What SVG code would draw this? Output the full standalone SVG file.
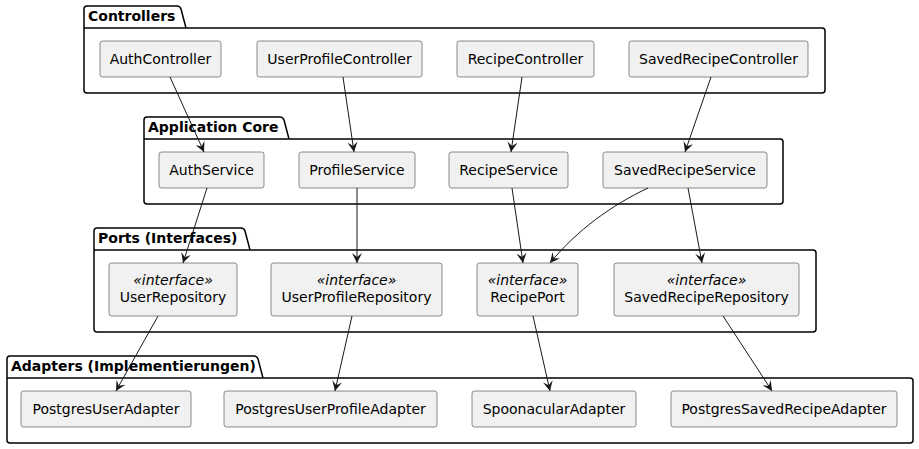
<svg xmlns="http://www.w3.org/2000/svg" width="919" height="449" viewBox="0 0 919 449">
<defs>
<style>
.pkg{fill:none;stroke:#000;stroke-width:1.5}
.box{fill:#F1F1F1;stroke:#181818;stroke-width:0.5}
.t{font-family:"DejaVu Sans",sans-serif;font-size:14px;fill:#000;text-anchor:middle}
.pt{font-family:"DejaVu Sans",sans-serif;font-size:14px;font-weight:bold;fill:#000}
.i{font-style:italic}
.c{fill:none;stroke:#181818;stroke-width:1}
</style>
<marker id="ah" viewBox="0 0 10 10" refX="10" refY="5" markerWidth="10" markerHeight="10" markerUnits="userSpaceOnUse" orient="auto">
<path d="M10,5 L0,0 L4,5 L0,10 Z" fill="#181818"/>
</marker>
</defs>
<rect width="919" height="449" fill="#fff"/>
<g id="pkg-controllers">
<path class="pkg" d="M87,6 L177,6 Q180,6 181,9 L186,28 L822,28 Q825,28 825,31 L825,90 Q825,93 822,93 L87,93 Q84,93 84,90 L84,9 Q84,6 87,6 Z M84,28 L186,28"/>
<text class="pt" x="88" y="21">Controllers</text>
</g>
<g id="pkg-core">
<path class="pkg" d="M147,117 L280,117 Q283,117 284,120 L289,139 L780,139 Q783,139 783,142 L783,201 Q783,204 780,204 L147,204 Q144,204 144,201 L144,120 Q144,117 147,117 Z M144,139 L289,139"/>
<text class="pt" x="148" y="132">Application Core</text>
</g>
<g id="pkg-ports">
<path class="pkg" d="M97,228 L241,228 Q244,228 245,231 L250,250 L813,250 Q816,250 816,253 L816,329 Q816,332 813,332 L97,332 Q94,332 94,329 L94,231 Q94,228 97,228 Z M94,250 L250,250"/>
<text class="pt" x="98" y="243">Ports (Interfaces)</text>
</g>
<g id="pkg-adapters">
<path class="pkg" d="M10,356 L254,356 Q257,356 258,359 L263,378 L910,378 Q913,378 913,381 L913,440 Q913,443 910,443 L10,443 Q7,443 7,440 L7,359 Q7,356 10,356 Z M7,378 L263,378"/>
<text class="pt" x="11" y="371">Adapters (Implementierungen)</text>
</g>
<g id="AuthController"><rect class="box" x="100" y="41" width="121" height="36" rx="2.5"/><text class="t" x="160.5" y="64">AuthController</text></g>
<g id="UserProfileController"><rect class="box" x="257" y="41" width="165" height="36" rx="2.5"/><text class="t" x="339.5" y="64">UserProfileController</text></g>
<g id="RecipeController"><rect class="box" x="457" y="41" width="137" height="36" rx="2.5"/><text class="t" x="525.5" y="64">RecipeController</text></g>
<g id="SavedRecipeController"><rect class="box" x="629" y="41" width="179" height="36" rx="2.5"/><text class="t" x="718.5" y="64">SavedRecipeController</text></g>
<g id="AuthService"><rect class="box" x="159" y="152" width="105" height="36" rx="2.5"/><text class="t" x="211.5" y="175">AuthService</text></g>
<g id="ProfileService"><rect class="box" x="299" y="152" width="116" height="36" rx="2.5"/><text class="t" x="357" y="175">ProfileService</text></g>
<g id="RecipeService"><rect class="box" x="449" y="152" width="119" height="36" rx="2.5"/><text class="t" x="508.5" y="175">RecipeService</text></g>
<g id="SavedRecipeService"><rect class="box" x="603" y="152" width="164" height="36" rx="2.5"/><text class="t" x="685" y="175">SavedRecipeService</text></g>
<g id="UserRepository"><rect class="box" x="109" y="263" width="128" height="53" rx="2.5"/><text class="t i" x="173" y="285">«interface»</text><text class="t" x="173" y="302">UserRepository</text></g>
<g id="UserProfileRepository"><rect class="box" x="271" y="263" width="171" height="53" rx="2.5"/><text class="t i" x="356.5" y="285">«interface»</text><text class="t" x="356.5" y="302">UserProfileRepository</text></g>
<g id="RecipePort"><rect class="box" x="477" y="263" width="101" height="53" rx="2.5"/><text class="t i" x="527.5" y="285">«interface»</text><text class="t" x="527.5" y="302">RecipePort</text></g>
<g id="SavedRecipeRepository"><rect class="box" x="614" y="263" width="185" height="53" rx="2.5"/><text class="t i" x="706.5" y="285">«interface»</text><text class="t" x="706.5" y="302">SavedRecipeRepository</text></g>
<g id="PostgresUserAdapter"><rect class="box" x="21" y="391" width="170" height="36" rx="2.5"/><text class="t" x="106" y="414">PostgresUserAdapter</text></g>
<g id="PostgresUserProfileAdapter"><rect class="box" x="224" y="391" width="213" height="36" rx="2.5"/><text class="t" x="330.5" y="414">PostgresUserProfileAdapter</text></g>
<g id="SpoonacularAdapter"><rect class="box" x="472" y="391" width="164" height="36" rx="2.5"/><text class="t" x="554" y="414">SpoonacularAdapter</text></g>
<g id="PostgresSavedRecipeAdapter"><rect class="box" x="671" y="391" width="226" height="36" rx="2.5"/><text class="t" x="784" y="414">PostgresSavedRecipeAdapter</text></g>
<g id="connectors">
<path class="c" marker-end="url(#ah)" d="M170,77 L204,152"/>
<path class="c" marker-end="url(#ah)" d="M343,77 L354,152"/>
<path class="c" marker-end="url(#ah)" d="M522,77 L511,152"/>
<path class="c" marker-end="url(#ah)" d="M711,77 L685,152"/>
<path class="c" marker-end="url(#ah)" d="M207,188 L183,263"/>
<path class="c" marker-end="url(#ah)" d="M357,188 L357,263"/>
<path class="c" marker-end="url(#ah)" d="M512,188 L523,263"/>
<path class="c" marker-end="url(#ah)" d="M648,188 C612,205 577,230 550,263"/>
<path class="c" marker-end="url(#ah)" d="M688,188 L702,263"/>
<path class="c" marker-end="url(#ah)" d="M158,316 L116,391"/>
<path class="c" marker-end="url(#ah)" d="M352,316 L335,391"/>
<path class="c" marker-end="url(#ah)" d="M533,316 L550,391"/>
<path class="c" marker-end="url(#ah)" d="M723,316 L772,391"/>
</g>
</svg>
